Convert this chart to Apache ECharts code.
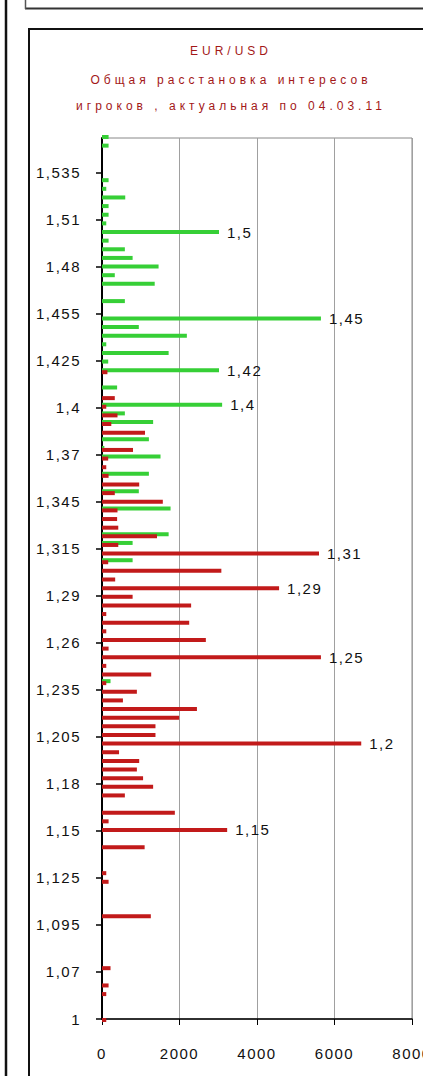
<!DOCTYPE html>
<html><head><meta charset="utf-8">
<script src="https://cdn.jsdelivr.net/npm/echarts@6/dist/echarts.min.js"></script>
<style>
html,body{margin:0;padding:0;background:#fff;}
#chart{width:423px;height:1076px;}
#chart text[style*="12px"]{letter-spacing:4px;}
#chart text[style*="15px"]{letter-spacing:1.5px;}
</style></head><body><div id="chart"></div>
<script>
// Strike levels, one per bar slot, from bottom (slot 0) to top (slot 102)
const strikes = [
 1, 1.045, 1.05, 1.055, 1.06, 1.065, 1.07, 1.075, 1.08, 1.085,
 1.09, 1.095, 1.1, 1.105, 1.11, 1.115, 1.12, 1.125, 1.13, 1.135,
 1.14, 1.145, 1.15, 1.155, 1.16, 1.165, 1.17, 1.175, 1.18, 1.185,
 1.19, 1.195, 1.2, 1.205, 1.21, 1.215, 1.22, 1.225, 1.23, 1.235,
 1.24, 1.245, 1.25, 1.255, 1.26, 1.265, 1.27, 1.275, 1.28, 1.285,
 1.29, 1.295, 1.3, 1.305, 1.31, 1.32, 1.325, 1.33, 1.335, 1.34,
 1.345, 1.35, 1.355, 1.36, 1.365, 1.37, 1.375, 1.38, 1.385, 1.39,
 1.395, 1.4, 1.405, 1.41, 1.415, 1.42, 1.425, 1.43, 1.435, 1.44,
 1.445, 1.45, 1.455, 1.46, 1.465, 1.47, 1.475, 1.48, 1.485, 1.49,
 1.495, 1.5, 1.505, 1.51, 1.515, 1.52, 1.525, 1.53, 1.535, 1.54,
 1.545, 1.55, 1.555
];
// Green series (calls)
const callsGreen = [
 0,0,0,0,0,0,0,0,0,0,
 0,0,0,0,0,0,0,0,0,0,
 0,0,0,0,0,0,0,0,0,0,
 0,0,0,0,0,0,0,0,0,220,
 0,0,0,0,0,0,0,0,0,0,
 0,0,0,790,0,790,1720,0,0,1770,
 0,950,0,1210,0,1510,60,1210,0,1320,
 590,3100,0,390,0,3020,160,1720,110,2190,
 950,5650,0,590,0,1360,330,1460,790,590,
 170,3020,110,170,170,600,110,170,0,0,
 0,170,170
];
// Red series (puts)
const putsRed = [
 110,0,0,110,170,0,220,0,0,0,
 0,0,1260,0,0,0,170,110,0,0,
 1100,0,3230,170,1880,0,590,1320,1060,900,
 960,440,6690,1380,1380,1990,2450,540,900,110,
 1270,110,5650,170,2680,110,2250,110,2300,790,
 4570,340,3080,160,5600,420,1420,420,390,400,
 1570,330,960,170,110,160,800,0,1110,240,
 400,110,330,0,0,140,0,0,0,0,
 0,0,0,0,0,0,0,0,0,0,
 0,0,0,0,0,0,0,0,0,0,
 0,0,0
];
// Tick labels of the price axis (bottom to top)
const tickLabels = ['1','1,07','1,095','1,125','1,15','1,18','1,205','1,235','1,26','1,29',
 '1,315','1,345','1,37','1,4','1,425','1,455','1,48','1,51','1,535'];
const labeledCalls = [1.5, 1.45, 1.42, 1.4];
const labeledPuts = [1.31, 1.29, 1.25, 1.2, 1.15];
const titleLines = ['EUR/USD', 'Общая расстановка интересов', 'игроков , актуальная по 04.03.11'];
const xMin = 0, xMax = 8000, xStep = 2000;

const FONT = '"Liberation Sans", Arial, sans-serif';
const fmtStrike = v => String(v).replace('.', ',');
const tickIdx = tickLabels.map((_, i) => i);

function mk(values, labeled) {
  return values.map((v, i) => labeled.includes(strikes[i])
    ? {value: v, label: {show: true}} : v);
}
const barLabel = {
  show: false, position: 'right', distance: 8, color: '#111',
  fontSize: 15, fontFamily: FONT,
  formatter: p => fmtStrike(strikes[p.dataIndex])
};

const chart = echarts.init(document.getElementById('chart'), null, {renderer: 'svg'});
chart.setOption({
  backgroundColor: '#ffffff',
  animation: false,
  grid: {left: 102, right: 11, top: 138, bottom: 57, show: true,
    borderColor: '#888', borderWidth: 1, backgroundColor: 'transparent',
    outerBoundsMode: 'none'},
  xAxis: {
    type: 'value', min: xMin, max: xMax, interval: xStep,
    axisLine: {show: true, onZero: false, lineStyle: {color: '#000', width: 1.5}},
    axisTick: {show: true, inside: false, length: 6, lineStyle: {color: '#000'}},
    axisLabel: {color: '#111', fontSize: 15, fontFamily: FONT, margin: 27,
      formatter: v => String(v)},
    splitLine: {show: true, lineStyle: {color: '#a0a0a0', width: 1}}
  },
  yAxis: [
    {type: 'category', data: strikes, boundaryGap: false, show: false},
    {type: 'value', min: 0, max: 18.73, interval: 1, position: 'left',
     axisLine: {show: true, onZero: false, lineStyle: {color: '#000', width: 2}},
     axisTick: {show: true, inside: false, length: 6, customValues: tickIdx, lineStyle: {color: '#000', width: 1.5}},
     axisLabel: {customValues: tickIdx, color: '#111', fontSize: 15, fontFamily: FONT, margin: 21,
       formatter: v => tickLabels[Math.round(v)] || ''},
     splitLine: {show: false}}
  ],
  series: [
    {name: 'calls', type: 'bar', yAxisIndex: 0, barWidth: 4, barGap: '-50%',
     itemStyle: {color: '#36cf36'}, label: barLabel, data: mk(callsGreen, labeledCalls)},
    {name: 'puts', type: 'bar', yAxisIndex: 0, barWidth: 4, barGap: '-50%',
     itemStyle: {color: '#c21a1a'}, label: barLabel, data: mk(putsRed, labeledPuts)}
  ],
  graphic: [
    {type: 'line', shape: {x1: 6, y1: 0, x2: 6, y2: 1076}, style: {stroke: '#111', lineWidth: 2.5}},
    {type: 'line', shape: {x1: 25, y1: 8.5, x2: 423, y2: 8.5}, style: {stroke: '#333', lineWidth: 2}},
    {type: 'line', shape: {x1: 25.5, y1: 0, x2: 25.5, y2: 9}, style: {stroke: '#555', lineWidth: 1.5}},
    {type: 'line', shape: {x1: 28, y1: 29, x2: 423, y2: 29}, style: {stroke: '#111', lineWidth: 2}},
    {type: 'line', shape: {x1: 29, y1: 28, x2: 29, y2: 1076}, style: {stroke: '#111', lineWidth: 2}},
    ...titleLines.map((t, i) => ({
      type: 'text', x: 231, y: [51, 80, 106][i],
      style: {text: t, font: '12px ' + FONT, fill: '#a31818',
        align: 'center', verticalAlign: 'middle', textAlign: 'center', textVerticalAlign: 'middle'}
    }))
  ]
});
</script></body></html>
